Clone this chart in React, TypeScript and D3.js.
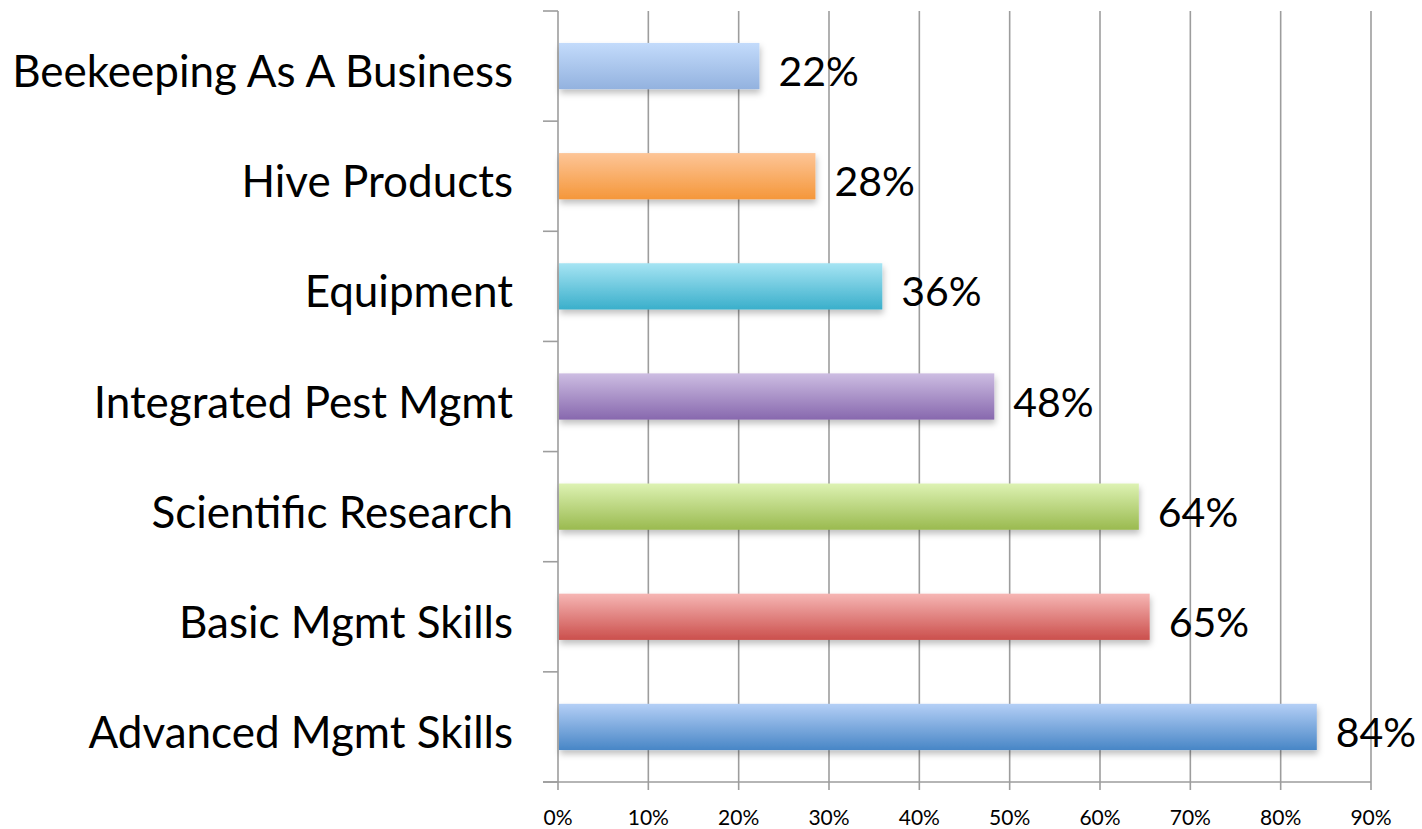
import React, { useEffect, useRef } from 'react';
import * as d3 from 'd3';

const categories = [
  'Beekeeping As A Business',
  'Hive Products',
  'Equipment',
  'Integrated Pest Mgmt',
  'Scientific Research',
  'Basic Mgmt Skills',
  'Advanced Mgmt Skills',
];
const values = [0.223, 0.285, 0.359, 0.483, 0.643, 0.655, 0.84];
const valueLabels = ['22%', '28%', '36%', '48%', '64%', '65%', '84%'];
const xTicks = [0, 0.1, 0.2, 0.3, 0.4, 0.5, 0.6, 0.7, 0.8, 0.9];
const barColors: [string, string][] = [
  ['#c3dbfb', '#93b2df'],
  ['#fdc597', '#f5973a'],
  ['#a6e4f3', '#3aafcb'],
  ['#cdbde2', '#8768ae'],
  ['#ddf2b3', '#9aba4f'],
  ['#f6b6b4', '#cb4f4c'],
  ['#b4cff6', '#4886c6'],
];

const W = 1422;
const H = 829;
const FONT = 'Lato, "Open Sans", sans-serif';

const App: React.FC = () => {
  const ref = useRef<SVGSVGElement>(null);

  useEffect(() => {
    if (!ref.current) return;
    const svg = d3.select(ref.current);
    svg.selectAll('*').remove();

    const left = 558, right = 1371, top = 11, bottom = 782;

    const x = d3.scaleLinear().domain([0, 0.9]).range([left, right]);
    const y = d3.scaleBand<string>()
      .domain(categories)
      .range([top, bottom])
      .paddingInner(0.58)
      .paddingOuter(0.29);

    const defs = svg.append('defs');
    barColors.forEach((c, i) => {
      const g = defs.append('linearGradient')
        .attr('id', `grad${i}`)
        .attr('x1', 0).attr('y1', 0).attr('x2', 0).attr('y2', 1);
      g.append('stop').attr('offset', '0%').attr('stop-color', c[0]);
      g.append('stop').attr('offset', '100%').attr('stop-color', c[1]);
    });
    const f = defs.append('filter').attr('id', 'shadow')
      .attr('x', '-5%').attr('y', '-20%').attr('width', '110%').attr('height', '160%');
    f.append('feDropShadow')
      .attr('dx', 1).attr('dy', 4).attr('stdDeviation', 3)
      .attr('flood-color', '#000').attr('flood-opacity', 0.25);

    const gridColor = '#9d9d9d';

    // vertical gridlines
    svg.append('g')
      .selectAll('line')
      .data(xTicks.slice(1))
      .join('line')
      .attr('x1', d => x(d)).attr('x2', d => x(d))
      .attr('y1', top).attr('y2', bottom + 8)
      .attr('stroke', gridColor).attr('stroke-width', 1.6);

    // y axis line + category ticks
    const bandStep = y.step();
    const yTickPos = d3.range(categories.length + 1).map(i => top + i * bandStep);
    svg.append('line')
      .attr('x1', left).attr('x2', left)
      .attr('y1', top).attr('y2', bottom + 8)
      .attr('stroke', gridColor).attr('stroke-width', 1.6);
    svg.append('g')
      .selectAll('line')
      .data(yTickPos)
      .join('line')
      .attr('x1', left - 15).attr('x2', left)
      .attr('y1', d => d).attr('y2', d => d)
      .attr('stroke', gridColor).attr('stroke-width', 1.6);

    // x axis line
    svg.append('line')
      .attr('x1', left - 15).attr('x2', right)
      .attr('y1', bottom).attr('y2', bottom)
      .attr('stroke', gridColor).attr('stroke-width', 1.6);

    // x tick labels
    svg.append('g')
      .selectAll('text')
      .data(xTicks)
      .join('text')
      .attr('x', d => x(d))
      .attr('y', 825)
      .attr('text-anchor', 'middle')
      .attr('font-family', FONT)
      .attr('font-size', 21)
      .attr('fill', '#000')
      .text(d => `${Math.round(d * 100)}%`);

    // bars
    svg.append('g')
      .selectAll('rect')
      .data(values)
      .join('rect')
      .attr('x', left + 1)
      .attr('y', (_, i) => y(categories[i])!)
      .attr('width', d => x(d) - left - 1)
      .attr('height', y.bandwidth())
      .attr('fill', (_, i) => `url(#grad${i})`)
      .attr('filter', 'url(#shadow)');

    // value labels
    svg.append('g')
      .selectAll('text')
      .data(values)
      .join('text')
      .attr('x', d => x(d) + 19)
      .attr('y', (_, i) => y(categories[i])! + y.bandwidth() / 2 + 20)
      .attr('font-family', FONT)
      .attr('font-size', 41)
      .attr('fill', '#000')
      .text((_, i) => valueLabels[i]);

    // category labels
    svg.append('g')
      .selectAll('text')
      .data(categories)
      .join('text')
      .attr('x', 513)
      .attr('y', d => y(d)! + y.bandwidth() / 2 + 21)
      .attr('text-anchor', 'end')
      .attr('font-family', FONT)
      .attr('font-size', 44)
      .attr('fill', '#000')
      .text(d => d);
  }, []);

  return (
    <svg
      ref={ref}
      width={W}
      height={H}
      style={{ position: 'absolute', left: 0, top: 0, background: '#fff' }}
    />
  );
};

export default App;
